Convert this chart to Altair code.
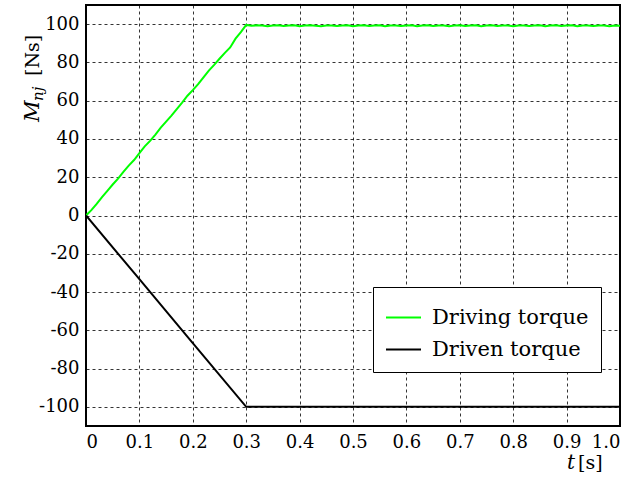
import altair as alt
import pandas as pd

# Time axis samples [s]
t_ramp = [0.00, 0.01, 0.02, 0.03, 0.04, 0.05, 0.06, 0.07, 0.08, 0.09, 0.10,
          0.11, 0.12, 0.13, 0.14, 0.15, 0.16, 0.17, 0.18, 0.19, 0.20,
          0.21, 0.22, 0.23, 0.24, 0.25, 0.26, 0.27, 0.28, 0.29, 0.30]
driving_ramp = [0.0, 2.8, 6.1, 9.6, 12.9, 16.2, 19.3, 22.8, 26.1, 29.0, 32.6,
                36.1, 39.0, 42.3, 45.9, 49.1, 52.2, 55.6, 59.0, 62.6, 65.5,
                68.6, 72.2, 75.7, 78.7, 81.9, 85.0, 87.8, 92.4, 95.8, 99.6]

t_flat = [round(0.31 + 0.01 * i, 2) for i in range(70)]
driving_flat = [99.1, 99.4, 99.3, 98.9, 99.3, 99.4, 99.0, 99.3, 99.4, 98.9,
                99.3, 99.4, 99.2, 98.9, 99.3, 99.3, 99.0, 99.3, 99.4, 98.9,
                99.3, 99.4, 99.0, 99.3, 99.4, 98.9, 99.3, 99.3, 99.0, 99.3,
                99.4, 98.9, 99.3, 99.4, 99.0, 99.3, 99.3, 98.9, 99.3, 99.4,
                99.0, 99.3, 99.4, 98.9, 99.3, 99.4, 99.0, 99.3, 99.3, 98.9,
                99.3, 99.3, 99.0, 99.3, 99.4, 98.9, 99.3, 99.4, 99.0, 99.3,
                99.4, 98.9, 99.3, 99.3, 99.0, 99.3, 99.3, 98.9, 99.3, 99.2]

t_driven = [0.0, 0.1, 0.2, 0.3, 0.5, 0.7, 1.0]
driven = [0.0, -33.3, -66.7, -100.0, -100.0, -100.0, -100.0]

series_names = ["Driving torque", "Driven torque"]
series_colors = ["#00ff00", "#000000"]

x_ticks = [round(0.1 * i, 1) for i in range(11)]
y_ticks = list(range(-100, 101, 20))

df = pd.DataFrame({
    "t": t_ramp + t_flat + t_driven,
    "M": driving_ramp + driving_flat + driven,
    "series": [series_names[0]] * (len(t_ramp) + len(t_flat)) + [series_names[1]] * len(t_driven),
})

FONT = "DejaVu Serif"

lines = alt.Chart(df).mark_line(strokeWidth=2, clip=True).encode(
    x=alt.X("t:Q", scale=alt.Scale(domain=[0, 1], nice=False),
            axis=alt.Axis(values=x_ticks, title=None,
                          labelExpr="datum.value == 0 ? '0' : format(datum.value, '.1f')")),
    y=alt.Y("M:Q", scale=alt.Scale(domain=[-110, 110], nice=False),
            axis=alt.Axis(values=y_ticks, title=None,
                          labelExpr="datum.value < 0 ? '-' + abs(datum.value) : '' + datum.value")),
    color=alt.Color("series:N", sort=series_names,
                    scale=alt.Scale(domain=series_names, range=series_colors),
                    legend=alt.Legend(title=None, orient="none", legendX=287, legendY=282,
                                      fillColor="white", strokeColor="black", padding=12,
                                      symbolType="stroke", symbolSize=1225, symbolStrokeWidth=2,
                                      labelFont=FONT, labelFontSize=21, labelColor="black",
                                      rowPadding=3, labelOffset=10)),
    detail="series:N",
)

one = pd.DataFrame({"k": [0]})


def label(text, x, y, size=20, italic=False, angle=0):
    return alt.Chart(one).mark_text(
        font=FONT, fontSize=size, fontStyle="italic" if italic else "normal",
        align="left", baseline="alphabetic", angle=angle, color="black",
    ).encode(x=alt.value(x), y=alt.value(y), text=alt.value(text))


titles = [
    label("M", -47, 117, size=21, italic=True, angle=270),
    label("nj", -43, 96, size=15, italic=True, angle=270),
    label("[Ns]", -47, 71, size=19, angle=270),
    label("t", 481, 464, size=20, italic=True),
    label("[s]", 492, 464, size=19),
]

chart = alt.layer(lines, *titles).properties(
    width=534, height=421,
    background="white",
    autosize=alt.AutoSizeParams(type="none"),
    padding={"left": 86, "top": 5, "right": 17, "bottom": 55},
).configure_view(
    stroke="black", strokeWidth=2,
).configure_axis(
    domain=False, ticks=False,
    grid=True, gridColor="black", gridDash=[3, 3], gridWidth=0.8, gridOpacity=1,
    labelFont=FONT, labelFontSize=18, labelColor="black", labelPadding=7,
)

chart.save("out.html", embed_options={"renderer": "svg", "actions": False})
